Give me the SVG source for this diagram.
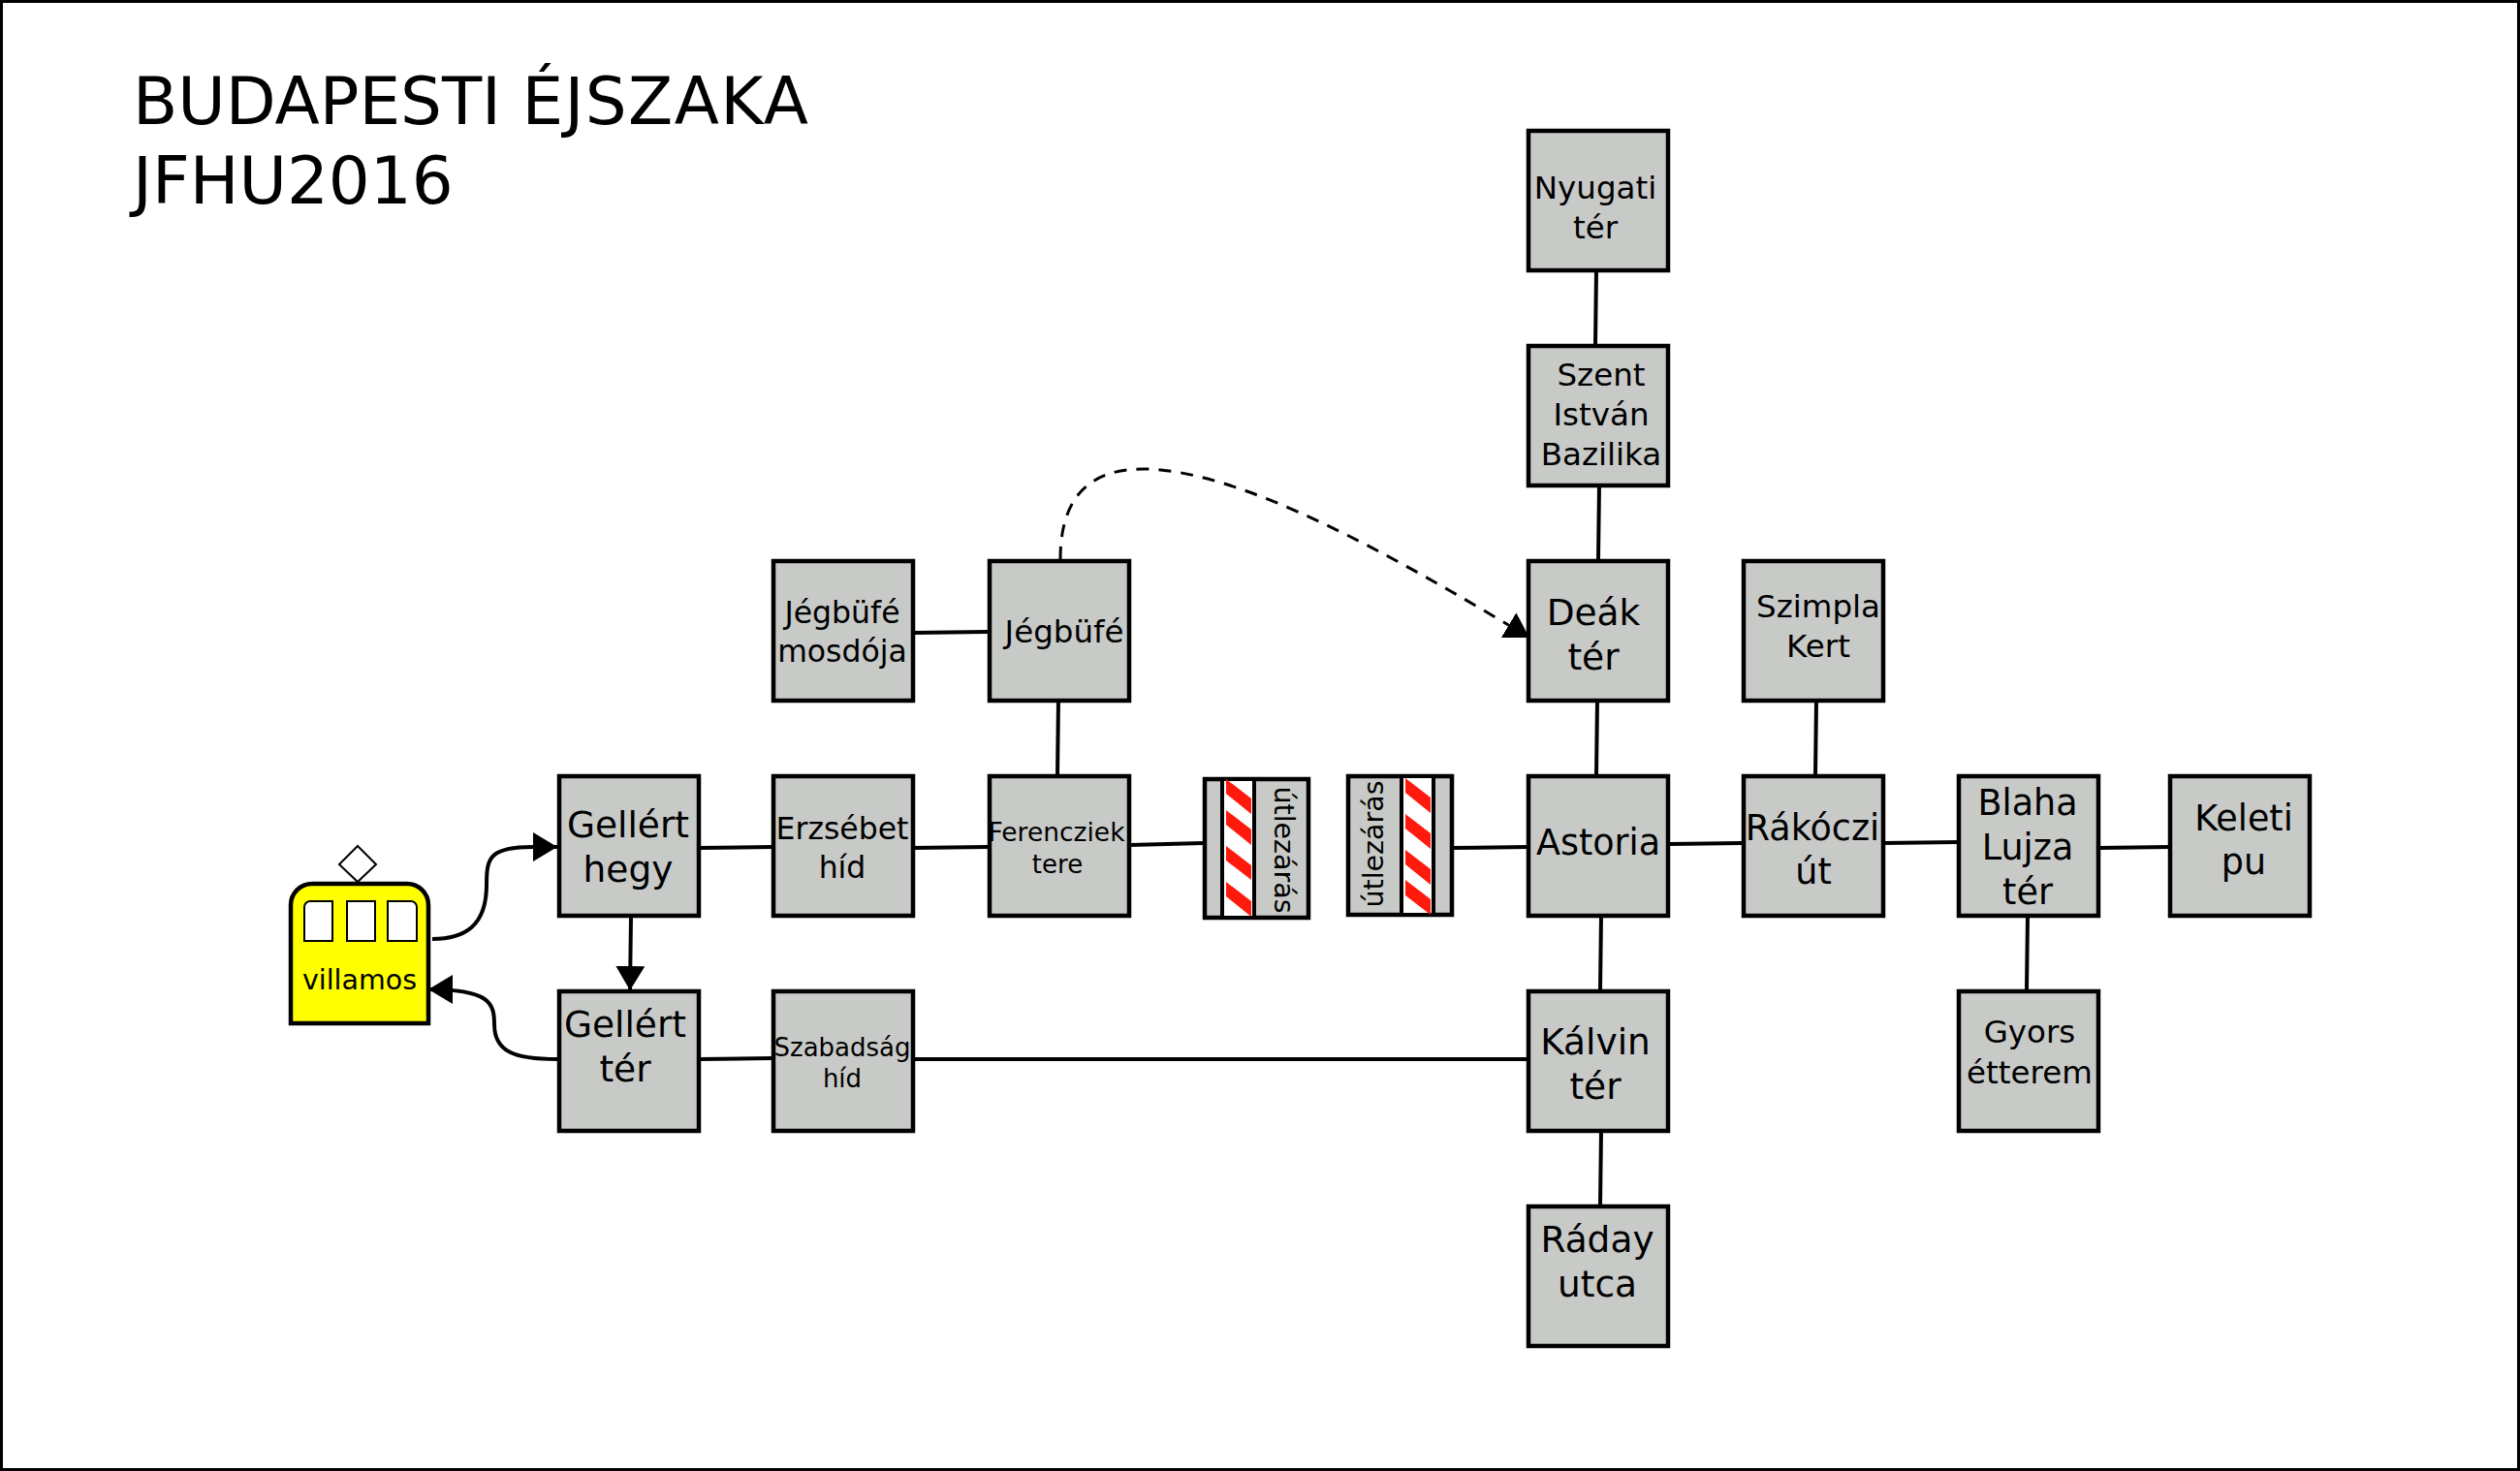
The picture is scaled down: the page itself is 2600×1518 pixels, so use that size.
<svg xmlns="http://www.w3.org/2000/svg" width="2600" height="1518" viewBox="0 0 2600 1518">
<style>
text{font-family:"DejaVu Sans",Verdana,sans-serif;fill:#000;text-anchor:middle}
.b{fill:#c8cac8;stroke:#000;stroke-width:4.5}
.c{fill:none;stroke:#000;stroke-width:4}
.w{fill:#fff;stroke:#000;stroke-width:2}
.r{fill:#ff1a0d;stroke:none}
.l{font-size:37.5px}.m{font-size:32.5px}.n{font-size:31.5px}.x{font-size:36.5px}.s{font-size:26px}
</style>
<defs>
<marker id="a" markerUnits="userSpaceOnUse" markerWidth="26" markerHeight="30" refX="25" refY="15" orient="auto"><path d="M0 0L25 15L0 30Z" fill="#000"/></marker>
</defs>
<rect x="1.5" y="1.5" width="2597" height="1515" fill="#fff" stroke="#000" stroke-width="3"/>
<g id="title" style="font-size:67.5px"><text x="137" y="128" style="text-anchor:start">BUDAPESTI <tspan letter-spacing="1.4">ÉJSZAKA</tspan></text><text x="137" y="210" style="text-anchor:start">JFHU2016</text></g>
<g id="connectors">
<path class="c" d="M446 969C480 969 502 955 502 913C502 885 505 874 550 874L575 874" marker-end="url(#a)"/>
<path class="c" d="M575 1093C530 1093 510 1085 510 1057C510 1035 505 1021 442 1021" marker-end="url(#a)"/>
<path class="c" d="M651 946L650 1022" marker-end="url(#a)"/>
<path class="c" d="M722 875L798 874"/>
<path class="c" d="M943 875L1021 874"/>
<path class="c" d="M1166 872L1242 870"/>
<path class="c" d="M1499 875L1577 874"/>
<path class="c" d="M1722 871L1798 870"/>
<path class="c" d="M1943 870L2021 869"/>
<path class="c" d="M2166 875L2239 874"/>
<path class="c" d="M722 1093L798 1092"/>
<path class="c" d="M943 1093L1577 1093"/>
<path class="c" d="M943 653L1021 652"/>
<path class="c" d="M1092 723L1091 801"/>
<path class="c" d="M1647 279L1646 356"/>
<path class="c" d="M1650 501L1649 578"/>
<path class="c" d="M1648 723L1647 800"/>
<path class="c" d="M1652 945L1651 1022"/>
<path class="c" d="M1652 1167L1651 1244"/>
<path class="c" d="M1874 723L1873 800"/>
<path class="c" d="M2092 946L2091 1022"/>
<path class="c" style="stroke-width:3" d="M1094 577C1094 530 1110 484 1179 484C1280 484 1440 575 1578 658" stroke-dasharray="13 10" marker-end="url(#a)"/>
</g>
<g id="villamos">
<path d="M300 1056V934a22 22 0 0 1 22-22H420a22 22 0 0 1 22 22V1056Z" fill="#ff0" stroke="#000" stroke-width="4.5"/>
<path class="w" d="M314 971V936a6 6 0 0 1 6-6H343V971Z"/><rect class="w" x="358" y="930" width="29" height="41"/><path class="w" d="M400 971V930H424a6 6 0 0 1 6 6V971Z"/>
<path class="w" d="M369 873L388 892L369 910L350 892Z"/>
<text x="371" y="1021" style="font-size:28.5px">villamos</text>
</g>
<g id="n-nyugati"><rect class="b" x="1577" y="135" width="144" height="144"/><text class="m" x="1646" y="205">Nyugati</text><text class="m" x="1646" y="246">tér</text></g>
<g id="n-szent"><rect class="b" x="1577" y="357" width="144" height="144"/><text class="m" x="1652" y="398">Szent</text><text class="m" x="1652" y="439">István</text><text class="m" x="1652" y="480">Bazilika</text></g>
<g id="n-deak"><rect class="b" x="1577" y="579" width="144" height="144"/><text class="l" x="1644" y="645">Deák</text><text class="l" x="1644" y="691">tér</text></g>
<g id="n-szimpla"><rect class="b" x="1799" y="579" width="144" height="144"/><text class="m" x="1876" y="637">Szimpla</text><text class="m" x="1876" y="678">Kert</text></g>
<g id="n-jmos"><rect class="b" x="798" y="579" width="144" height="144"/><text class="n" x="869" y="643">Jégbüfé</text><text class="n" x="869" y="683">mosdója</text></g>
<g id="n-jeg"><rect class="b" x="1021" y="579" width="144" height="144"/><text class="m" x="1098" y="663">Jégbüfé</text></g>
<g id="n-ghegy"><rect class="b" x="577" y="801" width="144" height="144"/><text class="l" x="648" y="864">Gellért</text><text class="l" x="648" y="910">hegy</text></g>
<g id="n-erzs"><rect class="b" x="798" y="801" width="144" height="144"/><text class="n" x="869" y="866">Erzsébet</text><text class="n" x="869" y="906">híd</text></g>
<g id="n-fer"><rect class="b" x="1021" y="801" width="144" height="144"/><text class="s" x="1090" y="868" style="font-size:26.5px">Ferencziek</text><text class="s" x="1091" y="901">tere</text></g>
<g id="n-ut1"><rect class="b" x="1243" y="804" width="107" height="143"/><rect x="1261" y="804" width="33" height="143" fill="#fff" stroke="#000" stroke-width="4"/>
<path class="r" d="M1265 804L1291 824V840L1265 819ZM1265 836L1291 856V872L1265 851ZM1265 873L1291 893V908L1265 888ZM1265 910L1291 930V946L1265 925Z"/>
<text x="1315" y="877" transform="rotate(90 1315 877)" style="font-size:28.5px">útlezárás</text></g>
<g id="n-ut2"><rect class="b" x="1391" y="801" width="107" height="143"/><rect x="1446" y="801" width="33" height="143" fill="#fff" stroke="#000" stroke-width="4"/>
<path class="r" d="M1450 803L1476 823V839L1450 818ZM1450 840L1476 860V876L1450 855ZM1450 877L1476 897V913L1450 892ZM1450 908L1476 928V944L1450 924Z"/>
<text x="1427" y="871" transform="rotate(-90 1427 871)" style="font-size:28.5px">útlezárás</text></g>
<g id="n-astoria"><rect class="b" x="1577" y="801" width="144" height="144"/><text class="x" x="1649" y="882">Astoria</text></g>
<g id="n-rak"><rect class="b" x="1799" y="801" width="144" height="144"/><text class="x" x="1870" y="867">Rákóczi</text><text class="x" x="1871" y="912">út</text></g>
<g id="n-blaha"><rect class="b" x="2021" y="801" width="144" height="144"/><text class="x" x="2092" y="841">Blaha</text><text class="x" x="2092" y="887">Lujza</text><text class="x" x="2092" y="933">tér</text></g>
<g id="n-keleti"><rect class="b" x="2239" y="801" width="144" height="144"/><text class="x" x="2315" y="857">Keleti</text><text class="x" x="2315" y="902">pu</text></g>
<g id="n-gter"><rect class="b" x="577" y="1023" width="144" height="144"/><text class="l" x="645" y="1070">Gellért</text><text class="l" x="645" y="1116">tér</text></g>
<g id="n-szab"><rect class="b" x="798" y="1023" width="144" height="144"/><text class="s" x="869" y="1090">Szabadság</text><text class="s" x="869" y="1122">híd</text></g>
<g id="n-kalvin"><rect class="b" x="1577" y="1023" width="144" height="144"/><text class="l" x="1646" y="1088">Kálvin</text><text class="l" x="1646" y="1134">tér</text></g>
<g id="n-gyors"><rect class="b" x="2021" y="1023" width="144" height="144"/><text class="m" x="2094" y="1076">Gyors</text><text class="m" x="2094" y="1118">étterem</text></g>
<g id="n-raday"><rect class="b" x="1577" y="1245" width="144" height="144"/><text class="l" x="1648" y="1292">Ráday</text><text class="l" x="1648" y="1338">utca</text></g>
</svg>
